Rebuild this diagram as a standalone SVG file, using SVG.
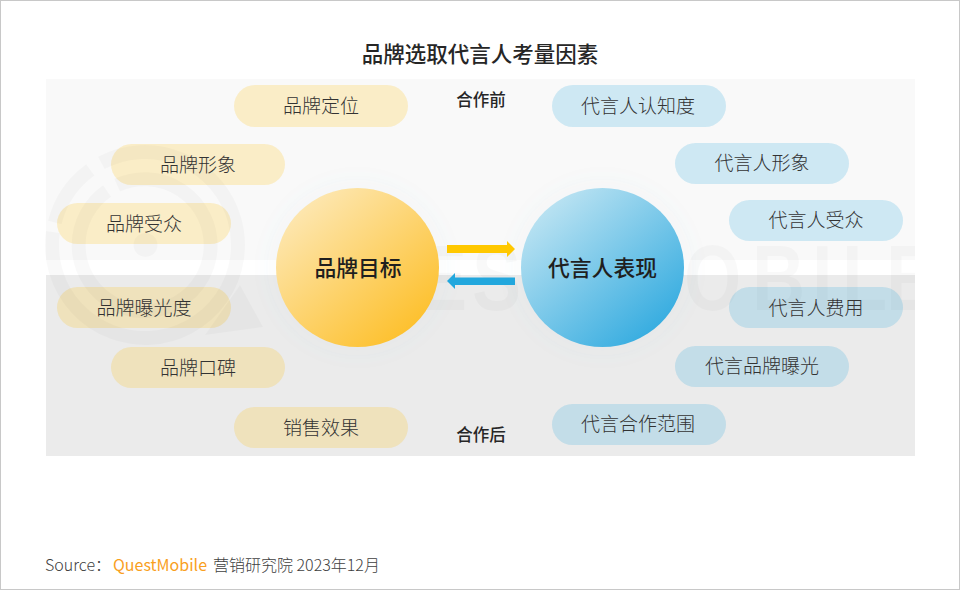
<svg xmlns="http://www.w3.org/2000/svg" width="960" height="590" viewBox="0 0 960 590">
<style>
text{font-family:"Noto Sans CJK SC","Microsoft YaHei",sans-serif;text-anchor:middle}
.pill{font-size:19px;fill:#333;font-weight:300}
.y{fill:#ffc000;fill-opacity:.2}
.b{fill:#22a7dd;fill-opacity:.2}
.c{font-size:21.8px;font-weight:500;fill:#1f1f1f}
.h{font-size:16.5px;font-weight:500;fill:#262626}
.wm{fill:none;stroke:#000;stroke-opacity:.025}
.wf{fill:#000;fill-opacity:.025}
</style>
<defs>
<linearGradient id="gy" x1="0.15" y1="0.1" x2="0.85" y2="0.9"><stop offset="0" stop-color="#fde7b2"/><stop offset="1" stop-color="#fdc02c"/></linearGradient>
<linearGradient id="gb" x1="0.15" y1="0.1" x2="0.85" y2="0.9"><stop offset="0" stop-color="#bce3f2"/><stop offset="1" stop-color="#35ace0"/></linearGradient>
<filter id="glow" x="-30%" y="-30%" width="160%" height="160%"><feGaussianBlur stdDeviation="9"/></filter>
<clipPath id="panelclip"><rect x="46" y="79" width="869" height="377"/></clipPath>
</defs>
<rect x="0.5" y="0.5" width="959" height="589" fill="#fff" stroke="#c8c8c8"/>
<text x="480" y="62" font-size="21.5" font-weight="500" fill="#262626">品牌选取代言人考量因素</text>
<g id="panels">
<rect x="46" y="79" width="869" height="181" fill="#f9f9f9"/>
<rect x="46" y="275" width="869" height="181" fill="#ebebeb"/>
</g>
<g id="watermark-text" clip-path="url(#panelclip)">
<text transform="translate(0 310) scale(.8 1)" x="362.5 440 522.5 590 658.75 745 855 940 1015 1052.5 1107.5" y="0" font-size="92" font-weight="700" class="wf" style="font-family:'Liberation Sans',sans-serif;text-anchor:start">QUESTMOBILE</text>
</g>
<g id="glows" filter="url(#glow)" fill="#5aa5c8" fill-opacity=".03">
<ellipse cx="357.5" cy="267.5" rx="90" ry="88"/>
<ellipse cx="602.5" cy="267.5" rx="90" ry="88"/>
</g>
<g id="connectors">
<path d="M447 245H507V241L515 249L507 257V253H447Z" fill="#ffc800"/>
<path d="M515 277.5H455V273L447 281L455 289V285H515Z" fill="#22a7dd"/>
</g>
<g id="brand-goal">
<ellipse cx="357.5" cy="267.5" rx="81.5" ry="79.5" fill="url(#gy)"/>
<text class="c" x="358" y="276">品牌目标</text>
</g>
<g id="spokesperson">
<ellipse cx="602.5" cy="267.5" rx="81.5" ry="79.5" fill="url(#gb)"/>
<text class="c" x="602.5" y="276">代言人表现</text>
</g>
<g id="n1"><rect class="y" x="234" y="85" width="174" height="42" rx="21"/><text class="pill" x="321" y="113">品牌定位</text></g>
<g id="n2"><rect class="y" x="111" y="144" width="174" height="41" rx="20.5"/><text class="pill" x="198" y="172">品牌形象</text></g>
<g id="n3"><rect class="y" x="57" y="203" width="174" height="41" rx="20.5"/><text class="pill" x="144" y="231">品牌受众</text></g>
<g id="n4"><rect class="y" x="57" y="287" width="174" height="41" rx="20.5"/><text class="pill" x="144" y="315">品牌曝光度</text></g>
<g id="n5"><rect class="y" x="111" y="347" width="174" height="41" rx="20.5"/><text class="pill" x="198" y="375">品牌口碑</text></g>
<g id="n6"><rect class="y" x="234" y="407" width="174" height="41" rx="20.5"/><text class="pill" x="321" y="435">销售效果</text></g>
<g id="n7"><rect class="b" x="552" y="85" width="174" height="42" rx="21"/><text class="pill" x="638" y="113">代言人认知度</text></g>
<g id="n8"><rect class="b" x="675" y="143" width="174" height="41" rx="20.5"/><text class="pill" x="762" y="170">代言人形象</text></g>
<g id="n9"><rect class="b" x="729" y="200" width="174" height="41" rx="20.5"/><text class="pill" x="816" y="227">代言人受众</text></g>
<g id="n10"><rect class="b" x="729" y="287" width="174" height="41" rx="20.5"/><text class="pill" x="816" y="315">代言人费用</text></g>
<g id="n11"><rect class="b" x="675" y="346" width="174" height="41" rx="20.5"/><text class="pill" x="762" y="373">代言品牌曝光</text></g>
<g id="n12"><rect class="b" x="552" y="404" width="174" height="41" rx="20.5"/><text class="pill" x="638" y="431">代言合作范围</text></g>
<g id="watermark-logo">
<path class="wm" stroke-width="14" d="M101.3 162.9A93 93 0 1 1 52.9 232M54.8 222.5A93 93 0 0 1 90.3 169.8"/>
<path class="wm" stroke-width="14" d="M117.1 185.2A66 66 0 1 1 107.1 190.9"/>
<circle class="wf" cx="145.5" cy="245" r="12"/>
<path class="wf" d="M240 285L263 327L205 335Z"/>
</g>
<g id="label-before"><text class="h" x="481" y="106">合作前</text></g>
<g id="label-after"><text class="h" x="481" y="441">合作后</text></g>
<text x="45" y="571" font-size="16" font-weight="300" fill="#404040" style="text-anchor:start">Source：</text>
<text x="113" y="571" font-size="16" fill="#f9a01e" style="text-anchor:start">QuestMobile</text>
<text x="213" y="571" font-size="16" font-weight="300" fill="#404040" style="text-anchor:start">营销研究院 2023年12月</text>
</svg>
